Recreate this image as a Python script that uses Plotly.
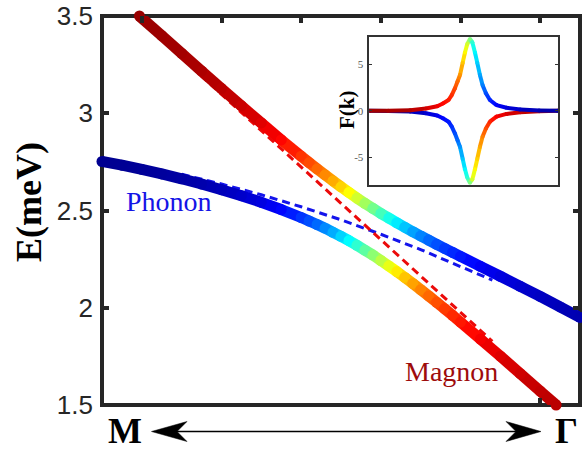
import plotly.graph_objects as go

# ---------------- data ----------------
# main panel: wave-vector position along M -> Gamma (arbitrary units 0..6)
k_upper = [0.47, 0.75, 1.0, 1.25, 1.5, 1.75, 2.0, 2.25,
           2.5, 2.6, 2.7, 2.8, 2.9, 3.0, 3.1, 3.2, 3.3, 3.4, 3.5, 3.6, 3.7,
           3.8, 3.9, 4.0, 4.1, 4.2, 4.3, 4.4, 4.5,
           4.75, 5.0, 5.25, 5.5, 5.75, 6.0]
E_upper = [3.500, 3.399, 3.308, 3.217, 3.127, 3.038, 2.950, 2.863,
           2.779, 2.746, 2.714, 2.683, 2.652, 2.622, 2.593, 2.564, 2.537, 2.511, 2.485, 2.461, 2.437,
           2.414, 2.391, 2.369, 2.348, 2.326, 2.305, 2.285, 2.264,
           2.213, 2.162, 2.110, 2.058, 2.004, 1.950]
mix_upper = [0.976, 0.971, 0.964, 0.955, 0.943, 0.927, 0.904, 0.871,
             0.824, 0.800, 0.773, 0.741, 0.706, 0.667, 0.625, 0.580, 0.534, 0.487, 0.441, 0.397, 0.356,
             0.318, 0.284, 0.254, 0.227, 0.203, 0.182, 0.164, 0.148,
             0.117, 0.094, 0.078, 0.065, 0.055, 0.048]

k_lower = [0.0, 0.25, 0.5, 0.75, 1.0, 1.25, 1.5, 1.75, 2.0, 2.25,
           2.5, 2.6, 2.7, 2.8, 2.9, 3.0, 3.1, 3.2, 3.3, 3.4, 3.5, 3.6, 3.7,
           3.8, 3.9, 4.0, 4.1, 4.2, 4.3, 4.4, 4.5,
           4.75, 5.0, 5.25, 5.5, 5.7]
E_lower = [2.752, 2.733, 2.711, 2.688, 2.663, 2.636, 2.607, 2.576, 2.542, 2.505,
           2.464, 2.446, 2.428, 2.409, 2.388, 2.367, 2.345, 2.321, 2.296, 2.271, 2.243, 2.215, 2.186,
           2.156, 2.125, 2.093, 2.061, 2.028, 1.995, 1.961, 1.926,
           1.839, 1.751, 1.661, 1.571, 1.500]
mix_lower = [0.017, 0.020, 0.024, 0.029, 0.036, 0.045, 0.057, 0.073, 0.096, 0.129,
             0.176, 0.200, 0.227, 0.259, 0.294, 0.333, 0.375, 0.420, 0.466, 0.513, 0.559, 0.603, 0.644,
             0.682, 0.716, 0.747, 0.773, 0.797, 0.818, 0.836, 0.852,
             0.883, 0.906, 0.922, 0.935, 0.943]

# bare (uncoupled) dispersions, dashed
k_bare = [1.0, 1.5, 2.0, 2.5, 3.0, 3.5, 4.0, 4.5, 4.9]
E_magnon_bare = [3.284, 3.097, 2.911, 2.724, 2.537, 2.350, 2.163, 1.976, 1.827]
E_phonon_bare = [2.686, 2.636, 2.581, 2.519, 2.452, 2.378, 2.299, 2.214, 2.142]

y_ticks = [1.5, 2, 2.5, 3, 3.5]
y_ticktext = ["1.5", "2", "2.5", "3", "3.5"]
x_ticks_top = [0.5, 1.5, 2.5, 3.5, 4.5, 5.5]
x_ticks_bottom = [5.5]

# inset: F(k)
k_inset = [0.0, 0.10, 0.2165, 0.30, 0.36, 0.39, 0.42, 0.437, 0.454, 0.468, 0.481, 0.495,
           0.507, 0.519, 0.5335, 0.546, 0.560, 0.572, 0.586, 0.600, 0.618, 0.639, 0.674,
           0.727, 0.80, 0.90, 1.0]
F_top = [0.0, 0.02, 0.07, 0.25, 0.5, 0.8, 1.17, 1.7, 2.45, 3.2, 3.9, 5.2,
         6.3, 7.2, 7.75, 7.4, 6.3, 5.2, 3.9, 2.8, 1.9, 1.17, 0.62,
         0.33, 0.15, 0.04, 0.0]
mix_top = [0.97, 0.96, 0.95, 0.92, 0.89, 0.87, 0.85, 0.83, 0.80, 0.77, 0.73, 0.68,
           0.63, 0.58, 0.50, 0.42, 0.37, 0.33, 0.29, 0.25, 0.20, 0.16, 0.12,
           0.09, 0.07, 0.05, 0.04]
F_bottom = [0.0, -0.02, -0.07, -0.25, -0.5, -0.8, -1.17, -1.7, -2.45, -3.2, -3.9, -5.2,
            -6.3, -7.2, -7.75, -7.4, -6.3, -5.2, -3.9, -2.8, -1.9, -1.17, -0.62,
            -0.33, -0.15, -0.04, 0.0]
mix_bottom = [0.03, 0.04, 0.05, 0.08, 0.11, 0.13, 0.15, 0.17, 0.20, 0.23, 0.27, 0.32,
              0.37, 0.42, 0.50, 0.58, 0.63, 0.67, 0.71, 0.75, 0.80, 0.84, 0.88,
              0.91, 0.93, 0.95, 0.96]
inset_yticks = [-5, 0, 5]

# ---------------- styling helpers ----------------
JET = [(0.0, (0, 0, 0.5)), (0.125, (0, 0, 1)), (0.375, (0, 1, 1)),
       (0.625, (1, 1, 0)), (0.875, (1, 0, 0)), (1.0, (0.5, 0, 0))]


def jet(v):
    v = min(max(v, 0.0), 1.0)
    for (a, ca), (b, cb) in zip(JET[:-1], JET[1:]):
        if v <= b:
            t = (v - a) / (b - a)
            r, g, bl = [ca[i] + (cb[i] - ca[i]) * t for i in range(3)]
            return f"rgb({round(r*255)},{round(g*255)},{round(bl*255)})"
    return "rgb(128,0,0)"


fig = go.Figure()


def add_colored_curve(xs, ys, cs, width, xa="x", ya="y", clip=True):
    for i in range(len(xs) - 1):
        fig.add_trace(go.Scatter(
            x=xs[i:i + 2], y=ys[i:i + 2], mode="lines",
            line=dict(color=jet((cs[i] + cs[i + 1]) / 2), width=width),
            xaxis=xa, yaxis=ya, hoverinfo="skip", showlegend=False))
    fig.add_trace(go.Scatter(
        x=xs, y=ys, mode="markers",
        marker=dict(color=[jet(c) for c in cs], size=width, line=dict(width=0)),
        xaxis=xa, yaxis=ya, cliponaxis=clip, hoverinfo="skip", showlegend=False))


# dashed bare dispersions (under the thick curves)
fig.add_trace(go.Scatter(x=k_bare, y=E_phonon_bare, mode="lines",
                         line=dict(color="rgb(20,20,235)", width=3, dash="8px,5px"),
                         hoverinfo="skip", showlegend=False))
fig.add_trace(go.Scatter(x=k_bare, y=E_magnon_bare, mode="lines",
                         line=dict(color="rgb(235,10,10)", width=3, dash="8px,5px"),
                         hoverinfo="skip", showlegend=False))

add_colored_curve(k_lower, E_lower, mix_lower, 11, clip=False)
add_colored_curve(k_upper, E_upper, mix_upper, 11, clip=False)

# inset curves
add_colored_curve(k_inset, F_bottom, mix_bottom, 4, xa="x2", ya="y2")
add_colored_curve(k_inset, F_top, mix_top, 4, xa="x2", ya="y2")

# ---------------- layout ----------------
L, R, T, B = 102, 2, 16, 49
W, H = 582, 454
pw, ph = W - L - R, H - T - B


def px(X):
    return (X - L) / pw


def py(Y):
    return (H - B - Y) / ph


AX = "#262626"
fig.update_layout(
    template="none",
    width=W, height=H, autosize=False,
    margin=dict(l=L, r=R, t=T, b=B, pad=0, autoexpand=False),
    paper_bgcolor="white", plot_bgcolor="white",
    showlegend=False,
    xaxis=dict(range=[0, 6], side="top", tickvals=x_ticks_top, showticklabels=False,
               ticks="inside", ticklen=7, tickwidth=3.5, tickcolor=AX,
               mirror=False, showline=False, showgrid=False, zeroline=False,
               automargin=False, fixedrange=True),
    xaxis3=dict(range=[0, 6], side="bottom", overlaying="x", anchor="y",
                tickvals=x_ticks_bottom, showticklabels=False,
                ticks="inside", ticklen=7, tickwidth=3.5, tickcolor=AX,
                showline=False, showgrid=False, zeroline=False,
                automargin=False, fixedrange=True),
    yaxis=dict(range=[1.5, 3.5], tickvals=y_ticks, ticktext=y_ticktext,
               ticks="inside", ticklen=7, tickwidth=3.5, tickcolor=AX,
               mirror="ticks", showline=False, showgrid=False, zeroline=False,
               tickfont=dict(family="Liberation Sans", size=26, color=AX),
               ticklabelstandoff=8, automargin=False, fixedrange=True),
    xaxis2=dict(domain=[px(369.3), px(558)], range=[0, 1], anchor="y2",
                showline=True, linewidth=1.6, linecolor="#333333", mirror=True,
                ticks="", showticklabels=False, showgrid=False, zeroline=False,
                automargin=False),
    yaxis2=dict(domain=[py(185), py(36.7)], range=[-8, 8], anchor="x2",
                tickvals=inset_yticks, ticktext=[str(v) for v in inset_yticks],
                showline=True, linewidth=1.6, linecolor="#333333", mirror="ticks",
                ticks="inside", ticklen=3, tickwidth=1, tickcolor="#333333",
                tickfont=dict(family="Liberation Serif", size=11, color="#555555"),
                ticklabelstandoff=2, automargin=False,
                showgrid=False, zeroline=False),
)

# invisible anchor trace so the bottom tick axis is drawn
fig.add_trace(go.Scatter(x=[None], y=[None], xaxis="x3", yaxis="y",
                         mode="lines", hoverinfo="skip", showlegend=False))

shapes = [
    dict(type="rect", xref="paper", yref="paper", x0=0, x1=1, y0=0, y1=1,
         line=dict(color=AX, width=4), layer="below"),
    dict(type="line", xref="paper", yref="paper",
         x0=px(165), x1=px(528), y0=py(431.5), y1=py(431.5),
         line=dict(color="black", width=1.6)),
    dict(type="path", xref="paper", yref="paper",
         path=(f"M{px(151.5)},{py(431.5)} L{px(187)},{py(421.5)} "
               f"L{px(177)},{py(431.5)} L{px(187)},{py(441.5)} Z"),
         fillcolor="black", line=dict(color="black", width=0.5)),
    dict(type="path", xref="paper", yref="paper",
         path=(f"M{px(541)},{py(431.5)} L{px(506)},{py(421.5)} "
               f"L{px(516)},{py(431.5)} L{px(506)},{py(441.5)} Z"),
         fillcolor="black", line=dict(color="black", width=0.5)),
]
fig.update_layout(shapes=shapes)

SERIF = "Liberation Serif"
annotations = [
    dict(text="<b>E(meV)</b>", x=px(29), y=py(202), textangle=-90,
         font=dict(family=SERIF, size=36, color="black")),
    dict(text="Phonon", x=px(169), y=py(201),
         font=dict(family=SERIF, size=28, color="rgb(20,20,230)")),
    dict(text="Magnon", x=px(451), y=py(371),
         font=dict(family=SERIF, size=28, color="rgb(158,12,12)")),
    dict(text="<b>M</b>", x=px(125), y=py(431),
         font=dict(family=SERIF, size=36, color="black")),
    dict(text="<b>Γ</b>", x=px(566), y=py(431),
         font=dict(family=SERIF, size=36, color="black")),
    dict(text="<b>F(k)</b>", x=px(347), y=py(110), textangle=-90,
         font=dict(family=SERIF, size=21, color="black")),
]
for a in annotations:
    a.update(xref="paper", yref="paper", showarrow=False,
             xanchor="center", yanchor="middle")
fig.update_layout(annotations=annotations)

fig.write_html(
    "out.html",
    config={"displayModeBar": False},
    post_script="document.body.style.margin='0';document.body.style.overflow='hidden';",
)
